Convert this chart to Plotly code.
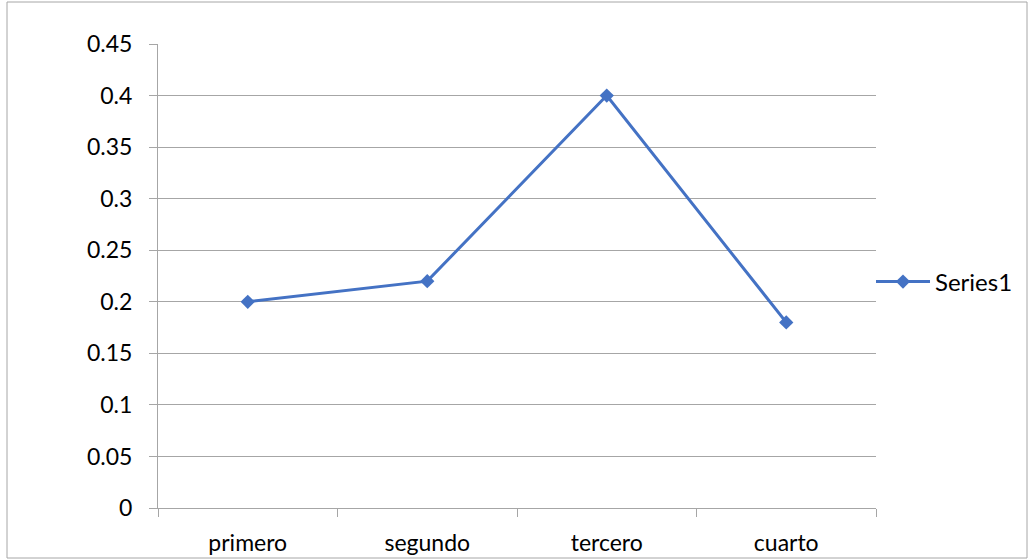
import plotly.graph_objects as go

categories = ["primero", "segundo", "tercero", "cuarto"]
values = [0.2, 0.22, 0.4, 0.18]
series_name = "Series1"
y_tickvals = [0, 0.05, 0.1, 0.15, 0.2, 0.25, 0.3, 0.35, 0.4, 0.45]
y_ticktext = ["0", "0.05", "0.1", "0.15", "0.2", "0.25", "0.3", "0.35", "0.4", "0.45"]

W, H = 1029, 560
L, R, T, B = 158, 153, 44, 52
pw, ph = W - L - R, H - T - B

def px_x(x):
    return (x - L) / pw

def px_y(y):
    return (H - B - y) / ph

fig = go.Figure()
fig.add_trace(go.Scatter(
    x=categories, y=values, name=series_name, mode="lines+markers",
    line=dict(color="#4472C4", width=3),
    marker=dict(symbol="diamond", size=11, color="#4472C4"),
    showlegend=True,
))

font = dict(family="Lato, Open Sans, sans-serif", size=23, color="#000000")

fig.update_layout(
    width=W, height=H,
    margin=dict(l=L, r=R, t=T, b=B, pad=0, autoexpand=False),
    paper_bgcolor="white", plot_bgcolor="white",
    font=font,
    showlegend=True,
    legend=dict(x=px_x(871), y=px_y(282), xanchor="left", yanchor="middle",
                itemwidth=54, font=dict(family="Lato, Open Sans, sans-serif", size=24, color="#000000"),
                bgcolor="rgba(0,0,0,0)", tracegroupgap=0),
    xaxis=dict(type="category", range=[-0.5, 3.5], tickson="boundaries",
               ticks="outside", ticklen=8, tickcolor="#a6a6a6", tickwidth=1,
               showline=True, linecolor="#a6a6a6", linewidth=1,
               showgrid=False, zeroline=False, ticklabelstandoff=14,
               automargin=False, fixedrange=True),
    yaxis=dict(range=[0, 0.45], tickvals=y_tickvals, ticktext=y_ticktext,
               ticks="outside", ticklen=8, tickcolor="#a6a6a6", tickwidth=1,
               showline=True, linecolor="#a6a6a6", linewidth=1,
               showgrid=True, gridcolor="#a6a6a6", gridwidth=1,
               zeroline=False, ticklabelstandoff=12, automargin=False,
               fixedrange=True),
    shapes=[dict(type="rect", xref="paper", yref="paper",
                 x0=px_x(7), x1=px_x(1027), y0=px_y(558), y1=px_y(2),
                 line=dict(color="#a6a6a6", width=1), layer="below")],
)

fig.write_html("out.html", config={"displayModeBar": False, "staticPlot": True},
               post_script="document.body.style.margin='0';document.body.style.overflow='hidden';")
